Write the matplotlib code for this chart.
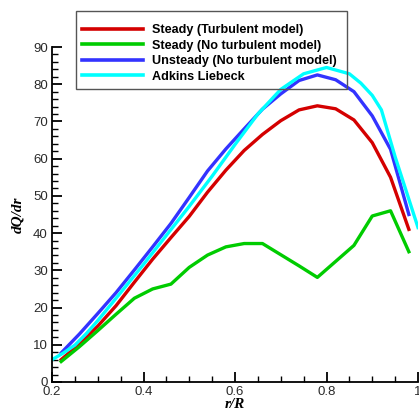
import numpy as np
import matplotlib.pyplot as plt
from matplotlib.patches import Rectangle
from matplotlib.ticker import MultipleLocator, FormatStrFormatter

# r/R stations of the computed cases
r_cfd = [0.22, 0.26, 0.30, 0.34, 0.38, 0.42, 0.46, 0.50, 0.54, 0.58,
         0.62, 0.66, 0.70, 0.74, 0.78, 0.82, 0.86, 0.90, 0.94, 0.98]
steady_turb = [6.0, 10.2, 15.0, 20.5, 26.8, 33.0, 38.8, 44.5, 51.0, 56.9,
               62.2, 66.5, 70.2, 73.1, 74.2, 73.4, 70.4, 64.3, 55.0, 41.0]
steady_noturb = [5.5, 9.5, 13.8, 18.2, 22.5, 25.0, 26.3, 30.8, 34.1, 36.3,
                 37.2, 37.2, 34.2, 31.2, 28.1, 32.4, 36.7, 44.6, 46.0, 35.0]
unsteady_noturb = [7.8, 12.9, 18.4, 24.0, 30.1, 36.3, 42.6, 49.6, 56.7, 62.6,
                   68.0, 73.3, 77.4, 81.0, 82.5, 81.2, 78.0, 71.5, 62.5, 45.0]

# Adkins & Liebeck reference (smooth curve)
r_al = [0.20, 0.225, 0.25, 0.275, 0.30, 0.35, 0.40, 0.45, 0.50, 0.55,
        0.60, 0.65, 0.70, 0.75, 0.80, 0.85, 0.875, 0.90, 0.92, 0.95, 0.975, 1.0]
adkins = [6.0, 7.8, 9.9, 13.0, 16.5, 24.0, 31.6, 39.4, 47.2, 55.3,
          63.8, 72.0, 78.6, 82.8, 84.5, 82.8, 80.3, 77.0, 73.1, 60.5, 51.0, 41.5]

labels = ["Steady (Turbulent model)", "Steady (No turbulent model)",
          "Unsteady (No turbulent model)", "Adkins Liebeck"]
colors = ["#d40000", "#00cc00", "#3333ff", "#00ffff"]

plt.rcParams['font.family'] = ['Liberation Sans', 'DejaVu Sans']

W, H = 419, 412
fig = plt.figure(figsize=(W / 100, H / 100), dpi=100)
ax = fig.add_axes([52 / W, 1 - 382 / H, 366 / W, 335 / H])

lw = 2.4
ax.plot(r_cfd, steady_turb, color=colors[0], lw=lw, label=labels[0])
ax.plot(r_cfd, steady_noturb, color=colors[1], lw=lw, label=labels[1])
ax.plot(r_cfd, unsteady_noturb, color=colors[2], lw=lw, label=labels[2])
ax.plot(r_al, adkins, color=colors[3], lw=lw, label=labels[3])

ax.set_xlim(0.2, 1.0)
ax.set_ylim(0, 90)
ax.spines['top'].set_visible(False)
ax.spines['right'].set_visible(False)
for s in ('left', 'bottom'):
    ax.spines[s].set_linewidth(1.3)

ax.xaxis.set_major_locator(MultipleLocator(0.2))
ax.xaxis.set_minor_locator(MultipleLocator(0.05))
ax.yaxis.set_major_locator(MultipleLocator(10))
ax.yaxis.set_minor_locator(MultipleLocator(2))
ax.xaxis.set_major_formatter(FormatStrFormatter('%g'))
ax.tick_params(which='major', direction='in', length=7, width=1.3,
               labelsize=9.5, labelcolor='#2a2a2a', pad=3)
ax.tick_params(which='minor', direction='in', length=4, width=1.0)

ax.set_xlabel("r/R", family='Liberation Serif', style='italic',
              weight='bold', fontsize=11, labelpad=0)
ax.set_ylabel("dQ/dr", family='Liberation Serif', style='italic',
              weight='bold', fontsize=11, labelpad=6)

# legend entries without frame, box drawn separately (Tecplot style)
leg = fig.legend(loc='upper left', bbox_to_anchor=(82 / W, 1 - 24 / H),
                 frameon=False, handlelength=4.8, handletextpad=0.7,
                 labelspacing=0.28, borderpad=0, borderaxespad=0,
                 prop={'weight': 'bold', 'size': 9.1})
for line in leg.get_lines():
    line.set_linewidth(2.6)
fig.add_artist(Rectangle((76 / W, 1 - 89 / H), 271 / W, 78 / H,
                         transform=fig.transFigure, fill=False,
                         ec='#555555', lw=1.0))

fig.savefig("out.png", dpi=100)
